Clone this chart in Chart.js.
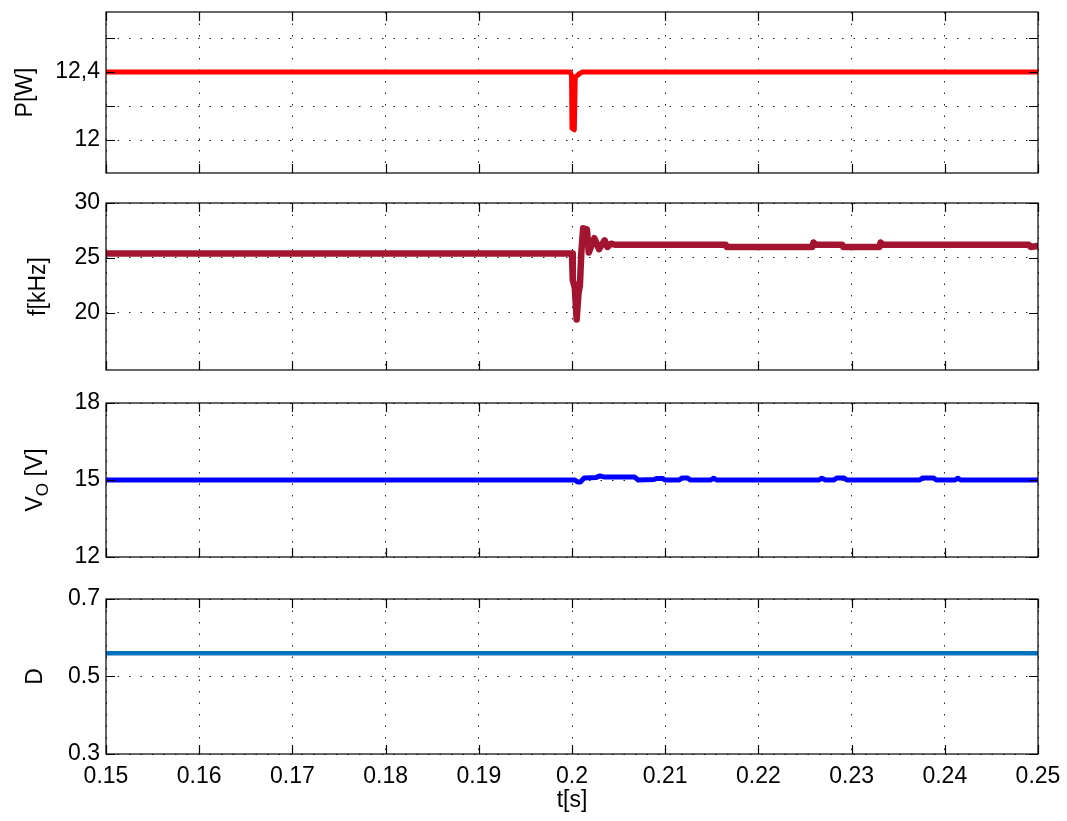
<!DOCTYPE html>
<html>
<head>
<meta charset="utf-8">
<title>P, f, Vo, D vs t</title>
<script src="https://cdn.jsdelivr.net/npm/chart.js@4.4.0/dist/chart.umd.min.js"></script>
<style>
    body { margin: 0; background: #fff; }
    #wrap { position: relative; width: 1067px; height: 821px; }
    #wrap canvas { position: absolute; left: 0; }
</style>
</head>
<body>
<div id="wrap">
    <canvas id="pChart" width="1067" height="190" style="top:0px"></canvas>
    <canvas id="fChart" width="1067" height="195" style="top:190px"></canvas>
    <canvas id="vChart" width="1067" height="195" style="top:385px"></canvas>
    <canvas id="dChart" width="1067" height="241" style="top:580px"></canvas>
</div>
<script>
/**
 * Data
 */
const xTickValues = [0.15, 0.16, 0.17, 0.18, 0.19, 0.2, 0.21, 0.22, 0.23, 0.24, 0.25];
const xTickLabels = ['0.15', '0.16', '0.17', '0.18', '0.19', '0.2', '0.21', '0.22', '0.23', '0.24', '0.25'];

// P[W]
const tP = [0.15, 0.1998, 0.19995, 0.2000, 0.20025, 0.20035, 0.2008, 0.2011, 0.25];
const pW = [12.4, 12.4, 12.38, 12.07, 12.06, 12.37, 12.39, 12.4, 12.4];
const pTicks = [12, 12.2, 12.4, 12.6];
const pTickLabels = ['12', '', '12,4', ''];

// f[kHz]
const tF = [0.15, 0.2000, 0.20008, 0.2003, 0.2005, 0.2007, 0.20085, 0.2010, 0.2012, 0.2016, 0.2018, 0.2024,
            0.2029, 0.2035, 0.2038, 0.2042, 0.2046, 0.2165, 0.2166, 0.2258, 0.2259, 0.2262, 0.2290, 0.2291,
            0.2330, 0.2331, 0.2334, 0.2490, 0.2492, 0.25];
const fKHz = [25.4, 25.4, 23.0, 22.3, 19.4, 21.8, 22.5, 25.5, 27.7, 27.6, 25.5, 26.8,
              25.8, 26.6, 26.0, 26.3, 26.2, 26.2, 26.0, 26.0, 26.4, 26.2, 26.2, 26.0,
              26.0, 26.4, 26.2, 26.2, 26.0, 26.1];
const fTicks = [20, 25, 30];
const fTickLabels = ['20', '25', '30'];

// Vo[V]
const tV = [0.15, 0.2003, 0.2006, 0.2009, 0.2013, 0.2026, 0.2030, 0.2034, 0.2067, 0.2071, 0.2088, 0.2091,
            0.2097, 0.2100, 0.2115, 0.2118, 0.2124, 0.2127, 0.2149, 0.2152, 0.2155, 0.2265, 0.2268, 0.2272,
            0.2281, 0.2284, 0.2292, 0.2295, 0.2373, 0.2376, 0.2388, 0.2391, 0.2411, 0.2414, 0.2417, 0.25];
const vO = [15, 15, 14.92, 14.92, 15.08, 15.1, 15.16, 15.12, 15.12, 15.0, 15.02, 15.06,
            15.06, 15.0, 15.0, 15.08, 15.08, 15.0, 15.0, 15.07, 15.0, 15.0, 15.07, 15.0,
            15.0, 15.08, 15.08, 15.0, 15.0, 15.08, 15.08, 15.0, 15.0, 15.07, 15.0, 15.0];
const vTicks = [12, 15, 18];
const vTickLabels = ['12', '15', '18'];

// D
const tD = [0.15, 0.25];
const dDuty = [0.56, 0.56];
const dTicks = [0.3, 0.5, 0.7];
const dTickLabels = ['0.3', '0.5', '0.7'];

const FONT = '"Liberation Sans", Arial, Helvetica, sans-serif';

/**
 * Box, inward tick marks and y label (with optional subscript)
 */
const framePlugin = {
    id: 'frame',
    afterDraw(chart, args, opts) {
        const { ctx, chartArea: a, scales } = chart;
        ctx.save();
        ctx.strokeStyle = '#000';
        ctx.lineWidth = 1.2;
        ctx.beginPath();
        scales.x.ticks.forEach(t => {
            const px = Math.round(scales.x.getPixelForValue(t.value)) + 0.5;
            ctx.moveTo(px, a.top); ctx.lineTo(px, a.top + 9);
            ctx.moveTo(px, a.bottom); ctx.lineTo(px, a.bottom - 9);
        });
        scales.y.ticks.forEach(t => {
            const py = Math.round(scales.y.getPixelForValue(t.value)) + 0.5;
            ctx.moveTo(a.left, py); ctx.lineTo(a.left + 9, py);
            ctx.moveTo(a.right, py); ctx.lineTo(a.right - 9, py);
        });
        ctx.stroke();
        ctx.strokeRect(a.left, a.top, a.right - a.left, a.bottom - a.top);

        // y label, rotated
        const parts = opts.parts || [];
        const mainFont = '23px ' + FONT;
        const subFont = '17px ' + FONT;
        let total = 0;
        parts.forEach(p => {
            ctx.font = p.sub ? subFont : mainFont;
            p.w = ctx.measureText(p.text).width;
            total += p.w;
        });
        ctx.translate(opts.x, (a.top + a.bottom) / 2);
        ctx.rotate(-Math.PI / 2);
        ctx.fillStyle = '#000';
        ctx.textBaseline = 'middle';
        ctx.textAlign = 'left';
        let x = -total / 2;
        parts.forEach(p => {
            ctx.font = p.sub ? subFont : mainFont;
            ctx.fillText(p.text, x, p.sub ? 7 : 0);
            x += p.w;
        });
        ctx.restore();
    }
};

/**
 * Build one panel
 */
function makePanel(id, cfg) {
    const ctx = document.getElementById(id);
    if (!ctx) return null;

    return new Chart(ctx, {
        type: 'line',
        data: {
            datasets: [{
                data: cfg.t.map((t, i) => ({ x: t, y: cfg.y[i] })),
                borderColor: cfg.color,
                borderWidth: cfg.width,
                borderJoinStyle: 'round',
                borderCapStyle: 'round',
                pointRadius: 0,
                tension: 0,
                fill: false
            }]
        },
        options: {
            responsive: false,
            animation: false,
            events: [],
            layout: { padding: { top: cfg.padTop, right: 29, bottom: 0, left: 0 } },
            plugins: {
                legend: { display: false },
                tooltip: { enabled: false },
                frame: { parts: cfg.title, x: cfg.titleX }
            },
            scales: {
                x: {
                    type: 'linear',
                    min: 0.15,
                    max: 0.25,
                    afterBuildTicks: s => { s.ticks = xTickValues.map(v => ({ value: v })); },
                    afterFit: s => { s.height = cfg.xHeight; s.paddingLeft = 0; s.paddingRight = 0; },
                    ticks: {
                        display: cfg.showX,
                        color: '#000',
                        padding: 9,
                        maxRotation: 0,
                        autoSkip: false,
                        font: { family: FONT, size: 23 },
                        callback: (v, i) => xTickLabels[i]
                    },
                    title: {
                        display: cfg.showX,
                        text: 't[s]',
                        color: '#000',
                        font: { family: FONT, size: 23 },
                        padding: { top: 0, bottom: 7 }
                    },
                    grid: { color: '#222', lineWidth: 1, drawTicks: false },
                    border: { display: false, dash: [1.5, 10] }
                },
                y: {
                    min: cfg.min,
                    max: cfg.max,
                    afterBuildTicks: s => { s.ticks = cfg.ticks.map(v => ({ value: v })); },
                    afterFit: s => { s.width = 106; s.paddingTop = 0; s.paddingBottom = 0; },
                    ticks: {
                        color: '#000',
                        padding: 6,
                        autoSkip: false,
                        font: { family: FONT, size: 23 },
                        callback: (v, i) => cfg.tickLabels[i]
                    },
                    grid: { color: '#222', lineWidth: 1, drawTicks: false },
                    border: { display: false, dash: [1.5, 10] }
                }
            }
        },
        plugins: [framePlugin]
    });
}

makePanel('pChart', {
    t: tP, y: pW, color: '#ff0000', width: 5,
    min: 11.806, max: 12.753, ticks: pTicks, tickLabels: pTickLabels,
    padTop: 12, xHeight: 17, showX: false,
    title: [{ text: 'P[W]' }], titleX: 26
});

makePanel('fChart', {
    t: tF, y: fKHz, color: '#a2142f', width: 6.5,
    min: 14.8, max: 30, ticks: fTicks, tickLabels: fTickLabels,
    padTop: 13, xHeight: 15, showX: false,
    title: [{ text: 'f[kHz]' }], titleX: 39
});

makePanel('vChart', {
    t: tV, y: vO, color: '#0000ff', width: 5,
    min: 12, max: 18, ticks: vTicks, tickLabels: vTickLabels,
    padTop: 18, xHeight: 23, showX: false,
    title: [{ text: 'V' }, { text: 'O', sub: true }, { text: ' [V]' }], titleX: 36
});

makePanel('dChart', {
    t: tD, y: dDuty, color: '#0072bd', width: 4.5,
    min: 0.3, max: 0.7, ticks: dTicks, tickLabels: dTickLabels,
    padTop: 19, xHeight: 67, showX: true,
    title: [{ text: 'D' }], titleX: 36
});
</script>
</body>
</html>
